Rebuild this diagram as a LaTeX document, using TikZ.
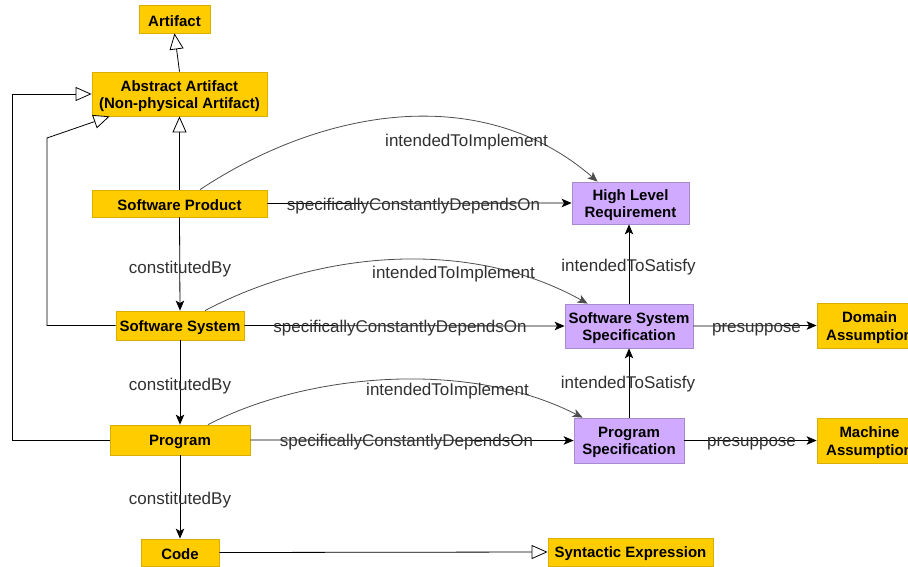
\documentclass[tikz,border=0pt]{standalone}
\usepackage{fontspec}
\setmainfont{Liberation Sans}
\usetikzlibrary{arrows.meta}
\definecolor{gold}{HTML}{FFCC00}
\definecolor{goldline}{HTML}{D9AE00}
\definecolor{lilac}{HTML}{D0AAFF}
\definecolor{lilacline}{HTML}{A88BCF}
\definecolor{lbl}{HTML}{303030}
\newcommand{\lowr}[1]{\raisebox{-2pt}[\height][\depth]{#1}}
\tikzset{
  cls/.style={draw=goldline, fill=gold, line width=0.8pt, inner sep=0pt, align=center,
    font=\fontsize{15}{17.5}\selectfont\bfseries},
  req/.style={cls, draw=lilacline, fill=lilac},
  rel/.style={draw=black, line width=0.8pt, -{Stealth[length=10pt,width=8.5pt,inset=2.5pt]}},
  curv/.style={draw=black!70, line width=0.8pt, -{Stealth[length=10pt,width=8.5pt,inset=2.5pt]}},
  gen/.style={draw=black, line width=0.8pt, -{Triangle[open,length=16pt,width=14pt,fill=white]}},
  lab/.style={anchor=base, inner sep=0pt, text=lbl, font=\fontsize{17}{19}\selectfont}
}
\begin{document}
\begin{tikzpicture}[x=1pt,y=-1pt]
\useasboundingbox (0,0) rectangle (908,566);
% nodes
\node[cls, minimum width=71pt, minimum height=28pt] (art) at (174.5,19) {\lowr{Artifact}};
\node[cls, minimum width=175pt, minimum height=44pt] (abs) at (179.5,94) {\lowr{Abstract Artifact}\\\lowr{(Non-physical Artifact)}};
\node[cls, minimum width=175pt, minimum height=27pt] (sp) at (179.5,203.5) {\lowr{Software Product}};
\node[cls, minimum width=128pt, minimum height=29pt] (ss) at (180,325.5) {\lowr{Software System}};
\node[cls, minimum width=140pt, minimum height=30pt] (prog) at (180,440) {\lowr{Program}};
\node[cls, minimum width=78pt, minimum height=27pt] (code) at (180,552.5) {\lowr{Code}};
\node[cls, minimum width=165pt, minimum height=28pt] (syn) at (630.5,552) {\lowr{Syntactic Expression}};
\node[req, minimum width=117pt, minimum height=42pt] (hlr) at (630.5,203) {\lowr{High Level}\\\lowr{Requirement}};
\node[req, minimum width=128pt, minimum height=44pt] (sss) at (629,326) {\lowr{Software System}\\\lowr{Specification}};
\node[req, minimum width=110pt, minimum height=45pt] (ps) at (629,440.5) {\lowr{Program}\\\lowr{Specification}};
\node[cls, minimum width=105pt, minimum height=45pt] (dom) at (869.5,325.5) {\lowr{Domain}\\\lowr{Assumption}};
\node[cls, minimum width=105pt, minimum height=45pt] (mach) at (869.5,440.5) {\lowr{Machine}\\\lowr{Assumption}};
% generalizations
\draw[gen] (abs.north) -- (art.south);
\draw[gen] (sp.north) -- (abs.south);
\coordinate (g1a) at (47,325.5);
\coordinate (g1b) at (47,138);
\draw[gen] (ss.west) -- (g1a) -- (g1b) -- ([xshift=18]abs.south west);
\coordinate (g2a) at (12,440);
\coordinate (g2b) at (12,94);
\draw[gen] (prog.west) -- (g2a) -- (g2b) -- (abs.west);
\draw[gen] (code.east) -- (syn.west);
% constitutedBy
\draw[rel] (sp.south) -- (ss.north);
\draw[rel] (ss.south) -- (prog.north);
\draw[rel] (prog.south) -- (code.north);
\node[lab] (l1) at (180,273) {constitutedBy};
\node[lab] (l2) at (180,390) {constitutedBy};
\node[lab] (l3) at (180,504) {constitutedBy};
% depends on
\draw[rel] (sp.east) -- (hlr.west);
\draw[rel] (ss.east) -- (sss.west);
\draw[rel] (prog.east) -- (ps.west);
\node[lab] (d1) at (413.5,210) {specificallyConstantlyDependsOn};
\node[lab] (d2) at (400,332) {specificallyConstantlyDependsOn};
\node[lab] (d3) at (406.5,446.5) {specificallyConstantlyDependsOn};
% satisfy
\draw[rel] (sss.north) -- (sss.north |- hlr.south);
\draw[rel] (ps.north) -- (ps.north |- sss.south);
\node[lab] (s1) at (628.5,271.5) {intendedToSatisfy};
\node[lab] (s2) at (628,388) {intendedToSatisfy};
% presuppose
\draw[rel] (sss.east) -- (dom.west);
\draw[rel] (ps.east) -- (mach.west);
\node[lab] (p1) at (756.5,332) {presuppose};
\node[lab] (p2) at (751.5,446) {presuppose};
% intendedToImplement curves
\draw[curv] ([xshift=20.5]sp.north) .. controls (320,110) and (480,80) .. ([xshift=26]hlr.north west);
\draw[curv] ([xshift=25]ss.north) .. controls (320,250) and (470,238) .. ([xshift=23]sss.north west);
\draw[curv] ([xshift=28]prog.north) .. controls (310,372) and (470,360) .. ([xshift=9]ps.north west);
\node[lab] (i1) at (466.5,146.5) {intendedToImplement};
\node[lab] (i2) at (453.5,278) {intendedToImplement};
\node[lab] (i3) at (447.5,395) {intendedToImplement};
\end{tikzpicture}
\end{document}
